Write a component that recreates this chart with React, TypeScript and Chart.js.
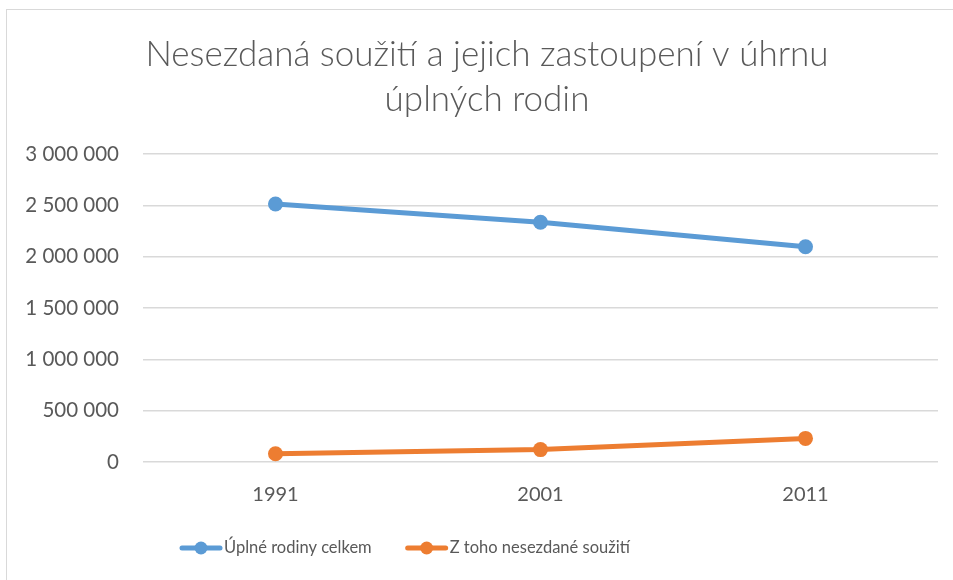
import React, { useEffect, useRef } from "react";
import { Chart, registerables } from "chart.js";

Chart.register(...registerables);

const categories = ["1991", "2001", "2011"];
const totalFamilies = [2513000, 2335000, 2097000];
const unmarriedCohabitations = [81000, 121000, 230000];
const seriesLabels = ["Úplné rodiny celkem", "Z toho nesezdané soužití"];
const seriesColors = ["#5B9BD5", "#ED7D31"];
const titleLines = ["Nesezdaná soužití a jejich zastoupení v úhrnu", "úplných rodin"];
const yMin = 0;
const yMax = 3000000;
const yStep = 500000;

const TEXT = "#595959";
const FONT = "Lato, 'Open Sans', sans-serif";

function formatThousands(v: number): string {
  return String(Math.round(v)).replace(/\B(?=(\d{3})+(?!\d))/g, " ");
}

const titlePlugin = {
  id: "excelTitle",
  afterDraw(chart: any) {
    const ctx = chart.ctx as CanvasRenderingContext2D;
    ctx.save();
    ctx.font = `300 35px ${FONT}`;
    ctx.fillStyle = TEXT;
    ctx.textAlign = "center";
    ctx.textBaseline = "middle";
    titleLines.forEach((line, i) => {
      ctx.fillText(line, 480, 44.5 + i * 45);
    });
    ctx.restore();
  },
};

const legendPlugin = {
  id: "excelLegend",
  afterDraw(chart: any) {
    const ctx = chart.ctx as CanvasRenderingContext2D;
    ctx.save();
    ctx.font = `16.5px ${FONT}`;
    ctx.textBaseline = "middle";
    ctx.textAlign = "left";
    let x = 173;
    const y = 538;
    chart.data.datasets.forEach((ds: any) => {
      ctx.strokeStyle = ds.borderColor;
      ctx.lineWidth = 5;
      ctx.lineCap = "round";
      ctx.beginPath();
      ctx.moveTo(x + 2, y);
      ctx.lineTo(x + 40, y);
      ctx.stroke();
      ctx.fillStyle = ds.borderColor;
      ctx.beginPath();
      ctx.arc(x + 21, y, 6.5, 0, Math.PI * 2);
      ctx.fill();
      ctx.fillStyle = TEXT;
      ctx.fillText(ds.label, x + 44, y);
      const w = ctx.measureText(ds.label).width;
      x += 44 + w + 34;
    });
    ctx.restore();
  },
};

export default function App() {
  const ref = useRef<HTMLCanvasElement | null>(null);

  useEffect(() => {
    if (!ref.current) return;
    const chart = new Chart(ref.current, {
      type: "line",
      data: {
        labels: categories,
        datasets: [
          {
            label: seriesLabels[0],
            data: totalFamilies,
            borderColor: seriesColors[0],
            backgroundColor: seriesColors[0],
            borderWidth: 5,
            pointRadius: 7.5,
            pointHoverRadius: 7.5,
            pointBorderWidth: 0,
            tension: 0,
          },
          {
            label: seriesLabels[1],
            data: unmarriedCohabitations,
            borderColor: seriesColors[1],
            backgroundColor: seriesColors[1],
            borderWidth: 5,
            pointRadius: 7.5,
            pointHoverRadius: 7.5,
            pointBorderWidth: 0,
            tension: 0,
          },
        ],
      },
      options: {
        responsive: false,
        animation: false,
        layout: { padding: { left: 0, right: 15, top: 144, bottom: 0 } },
        plugins: {
          legend: { display: false },
          tooltip: { enabled: false },
          title: { display: false },
        },
        scales: {
          x: {
            offset: true,
            grid: { display: false },
            border: { display: false },
            ticks: { color: TEXT, font: { family: FONT, size: 20 }, padding: 13 },
            afterFit: (scale: any) => {
              scale.height = 118;
            },
          },
          y: {
            min: yMin,
            max: yMax,
            border: { display: false },
            grid: { color: "#D9D9D9", lineWidth: 1.5, drawTicks: false },
            ticks: {
              stepSize: yStep,
              color: TEXT,
              font: { family: FONT, size: 20.5 },
              padding: 24,
              callback: (v: any) => formatThousands(Number(v)),
            },
            afterFit: (scale: any) => {
              scale.width = 136;
            },
          },
        },
      },
      plugins: [titlePlugin, legendPlugin],
    });
    return () => chart.destroy();
  }, []);

  return (
    <div
      style={{
        position: "absolute",
        left: 6,
        top: 9,
        width: 960,
        height: 580,
        borderLeft: "1px solid #D9D9D9",
        borderTop: "1px solid #D9D9D9",
        background: "#fff",
      }}
    >
      <canvas ref={ref} width={946} height={570} style={{ display: "block" }} />
    </div>
  );
}
